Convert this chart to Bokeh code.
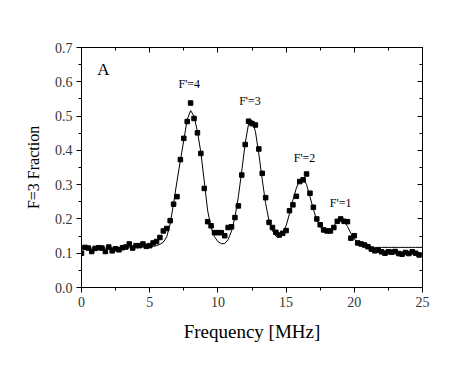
from bokeh.plotting import figure
from bokeh.models import LinearAxis, Range1d, FixedTicker, PrintfTickFormatter
from bokeh.core.properties import value
from bokeh.embed import file_html
from bokeh.resources import INLINE

# ---- data ----
freq = [i * 0.25 for i in range(100)]
fraction = [
    0.100, 0.117, 0.115, 0.105, 0.114, 0.116, 0.115, 0.105, 0.118, 0.107,
    0.113, 0.110, 0.116, 0.118, 0.127, 0.115, 0.122, 0.122, 0.127, 0.120,
    0.122, 0.130, 0.134, 0.146, 0.165, 0.172, 0.195, 0.243, 0.265, 0.373,
    0.435, 0.484, 0.538, 0.493, 0.451, 0.391, 0.289, 0.192, 0.180, 0.160,
    0.160, 0.160, 0.151, 0.175, 0.177, 0.204, 0.238, 0.328, 0.417, 0.485,
    0.478, 0.474, 0.404, 0.333, 0.262, 0.190, 0.175, 0.161, 0.153, 0.158,
    0.166, 0.224, 0.241, 0.266, 0.309, 0.314, 0.331, 0.275, 0.234, 0.200,
    0.183, 0.168, 0.165, 0.165, 0.175, 0.193, 0.200, 0.193, 0.192, 0.144,
    0.151, 0.130, 0.127, 0.124, 0.119, 0.112, 0.107, 0.109, 0.104, 0.100,
    0.104, 0.103, 0.105, 0.099, 0.097, 0.102, 0.099, 0.104, 0.100, 0.095,
]

fit_freq = [i * 0.25 for i in range(101)]
fit_fraction = [
    0.115, 0.115, 0.115, 0.115, 0.115, 0.115, 0.115, 0.115, 0.116, 0.116,
    0.116, 0.116, 0.116, 0.116, 0.116, 0.117, 0.117, 0.117, 0.118, 0.118,
    0.119, 0.120, 0.122, 0.126, 0.132, 0.148, 0.185, 0.245, 0.310, 0.370,
    0.430, 0.490, 0.516, 0.500, 0.455, 0.394, 0.310, 0.224, 0.175, 0.148,
    0.134, 0.128, 0.128, 0.140, 0.165, 0.205, 0.265, 0.340, 0.420, 0.478,
    0.488, 0.455, 0.390, 0.315, 0.245, 0.195, 0.165, 0.150, 0.148, 0.158,
    0.180, 0.215, 0.255, 0.290, 0.313, 0.318, 0.300, 0.265, 0.228, 0.196,
    0.177, 0.167, 0.165, 0.170, 0.180, 0.192, 0.198, 0.193, 0.178, 0.158,
    0.142, 0.130, 0.124, 0.120, 0.118, 0.117, 0.117, 0.117, 0.117, 0.117,
    0.117, 0.117, 0.117, 0.117, 0.117, 0.117, 0.117, 0.117, 0.117, 0.117,
    0.117,
]

peak_labels = ["F'=4", "F'=3", "F'=2", "F'=1"]
peak_x = [7.9, 12.35, 16.35, 19.0]
peak_y = [0.594, 0.543, 0.378, 0.246]

x_ticks = [0, 5, 10, 15, 20, 25]
y_ticks = [0.0, 0.1, 0.2, 0.3, 0.4, 0.5, 0.6, 0.7]
x_minor = [2.5, 7.5, 12.5, 17.5, 22.5]
y_minor = [0.05, 0.15, 0.25, 0.35, 0.45, 0.55, 0.65]

SERIF = "Liberation Serif"

p = figure(width=453, height=350, output_backend="svg", toolbar_location=None,
           x_range=Range1d(0, 25), y_range=Range1d(0, 0.7),
           min_border_left=81, min_border_right=31, min_border_top=47,
           min_border_bottom=63)
p.xgrid.visible = False
p.ygrid.visible = False
p.outline_line_color = "black"
p.background_fill_color = "white"
p.border_fill_color = "white"

p.line(fit_freq, fit_fraction, line_color="black", line_width=1)
p.scatter(freq, fraction, marker="square", size=4.5, fill_color="black",
          line_color="black")

p.text(x=peak_x, y=peak_y, text=peak_labels, text_font=value(SERIF),
       text_font_size="12px", text_align="center", text_baseline="middle",
       text_color="black")
p.text(x=[1.6], y=[0.637], text=["A"], text_font=value(SERIF),
       text_font_size="17px", text_align="center", text_baseline="middle",
       text_color="black")

def style(ax, labels=True, outward=True):
    ax.axis_line_color = "black"
    ax.major_tick_line_color = "black"
    ax.minor_tick_line_color = "black"
    if outward:
        ax.major_tick_out = 5
        ax.major_tick_in = 0
        ax.minor_tick_out = 3
        ax.minor_tick_in = 0
    else:
        ax.major_tick_out = 0
        ax.major_tick_in = 5
        ax.minor_tick_out = 0
        ax.minor_tick_in = 3
    ax.major_label_text_font = SERIF
    ax.major_label_text_font_size = "14px"
    ax.major_label_text_color = "#333333" if labels else None
    ax.axis_label_text_font = SERIF
    ax.axis_label_text_font_style = "normal"
    ax.axis_label_text_color = "black"

p.xaxis.ticker = FixedTicker(ticks=x_ticks, minor_ticks=x_minor)
p.yaxis.ticker = FixedTicker(ticks=y_ticks, minor_ticks=y_minor)
style(p.xaxis[0])
style(p.yaxis[0])
p.xaxis.axis_label = "Frequency [MHz]"
p.yaxis.axis_label = "F=3 Fraction"
p.xaxis.axis_label_text_font_size = "19px"
p.yaxis.axis_label_text_font_size = "16px"
p.yaxis.major_label_orientation = "horizontal"
p.yaxis.formatter = PrintfTickFormatter(format="%.1f")
p.xaxis.major_label_standoff = 4
p.yaxis.major_label_standoff = 4
p.xaxis.axis_label_standoff = 11
p.yaxis.axis_label_standoff = 10

top = LinearAxis(ticker=FixedTicker(ticks=x_ticks, minor_ticks=x_minor))
style(top, labels=False, outward=False)
top.major_label_text_font_size = "0px"
p.add_layout(top, "above")
right = LinearAxis(ticker=FixedTicker(ticks=y_ticks, minor_ticks=y_minor))
style(right, labels=False, outward=False)
right.major_label_text_font_size = "0px"
p.add_layout(right, "right")

open("out.html", "w").write(file_html(p, INLINE))
